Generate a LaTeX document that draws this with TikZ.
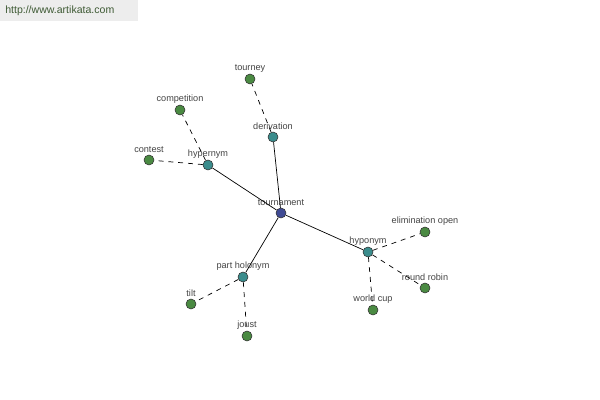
\documentclass[tikz,border=0pt]{standalone}
\usepackage{fontspec}
\setmainfont{Liberation Sans}
\usetikzlibrary{positioning}

\definecolor{rootblue}{HTML}{3F4A94}
\definecolor{relteal}{HTML}{3A8C8C}
\definecolor{wordgreen}{HTML}{4A8A42}
\definecolor{labelgrey}{HTML}{444444}
\definecolor{sitegreen}{HTML}{3E5A34}

\begin{document}
\begin{tikzpicture}[x=0.025cm,y=-0.025cm,
        every label/.style={font=\fontsize{6.5}{7}\selectfont,text=labelgrey,inner sep=1pt},
        word/.style={circle,draw=black!80,line width=0.4pt,minimum size=0.25cm,inner sep=0pt,
                label distance=0pt},
        root/.style={word,fill=rootblue},
        rel/.style={word,fill=relteal},
        leaf/.style={word,fill=wordgreen},
        link/.style={black,line width=0.5pt},
        sublink/.style={black,line width=0.5pt,dash pattern=on 3.5pt off 3.5pt}]
        \useasboundingbox (0,0) rectangle (600,400);
        \fill[white] (0,0) rectangle (600,400);
        \fill[black!7] (0,0) rectangle (138,21);
        \node[anchor=west,font=\fontsize{7.5}{9}\selectfont,text=sitegreen,inner sep=0pt] (site) at (5,11) {http://www.artikata.com};

        \node[root,label=above:tournament] (tournament) at (281,213) {};
        \node[rel,label=above:derivation] (derivation) at (273,137) {};
        \node[rel,label=above:hypernym] (hypernym) at (208,165) {};
        \node[rel,label=above:hyponym] (hyponym) at (368,252) {};
        \node[rel,label=above:part holonym] (holonym) at (243,277) {};

        \node[leaf,label=above:tourney] (tourney) at (250,79) {};
        \node[leaf,label=above:competition] (competition) at (180,110) {};
        \node[leaf,label=above:contest] (contest) at (149,160) {};
        \node[leaf,label=above:elimination open] (elimination) at (425,232) {};
        \node[leaf,label=above:round robin] (robin) at (425,288) {};
        \node[leaf,label=above:world cup] (worldcup) at (373,310) {};
        \node[leaf,label=above:tilt] (tilt) at (191,304) {};
        \node[leaf,label=above:joust] (joust) at (247,336) {};

        % relations
        \draw[link] (tournament) -- (derivation);
        \draw[link] (tournament) -- (hypernym);
        \draw[link] (tournament) -- (hyponym);
        \draw[link] (tournament) -- (holonym);

        % words
        \draw[sublink] (derivation) -- (tourney);
        \draw[sublink] (hypernym) -- (competition);
        \draw[sublink] (hypernym) -- (contest);
        \draw[sublink] (hyponym) -- (elimination);
        \draw[sublink] (hyponym) -- (robin);
        \draw[sublink] (hyponym) -- (worldcup);
        \draw[sublink] (holonym) -- (tilt);
        \draw[sublink] (holonym) -- (joust);
\end{tikzpicture}
\end{document}
